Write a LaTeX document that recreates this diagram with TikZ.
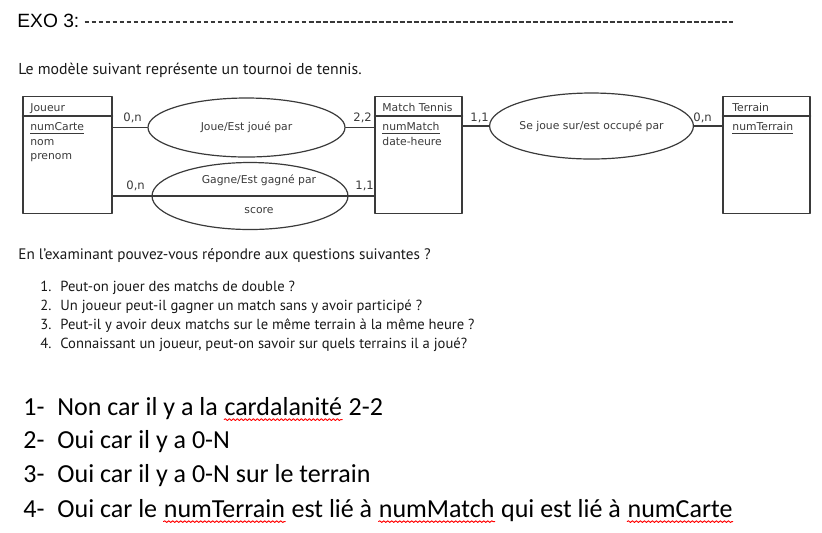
\documentclass[tikz,border=0pt]{standalone}
\usepackage{fontspec}
\setmainfont{PT Sans}
\newfontfamily\exofont{Liberation Sans}
\newfontfamily\merfont{DejaVu Sans}
\newfontfamily\wordfont{Carlito}
\usetikzlibrary{shapes.geometric,decorations.pathmorphing}
\definecolor{ink}{HTML}{3A3A3A}
\tikzset{
  every picture/.style={line join=round, line cap=round},
  entity/.style={draw=ink, line width=0.6pt, minimum height=58.5pt, inner sep=0pt},
  assoc/.style={draw=ink, line width=0.6pt, ellipse, inner sep=0pt},
  link/.style={draw=ink, line width=0.6pt},
  mer/.style={font=\merfont\fontsize{5.4}{7.3}\selectfont, text=ink, inner sep=0pt},
  card/.style={font=\merfont\fontsize{5.8}{7}\selectfont, text=ink, inner sep=0pt, anchor=base west},
  doc/.style={font=\fontsize{7.9}{9}\selectfont, text=black!90, inner sep=0pt, anchor=base west},
  item/.style={doc, font=\fontsize{7.3}{9}\selectfont},
  word/.style={font=\wordfont\fontsize{13}{15}\selectfont, inner sep=0pt, anchor=base west},
  squiggle/.style={draw=red, line width=0.45pt, decorate, decoration={snake, segment length=2pt, amplitude=0.45pt}},
  dashrule/.style={draw=black!78, line width=1.2pt, line cap=butt, dash pattern=on 2.4pt off 1.1pt},
}

\begin{document}
\begin{tikzpicture}[x=0.5pt,y=-0.5pt]
\useasboundingbox (0,0) rectangle (822,532);
% title
\node[font=\exofont\fontsize{9.6}{11}\selectfont, inner sep=0pt, anchor=base west] (exo) at (17,27) {EXO 3:};
\coordinate (dashend) at (733,22);
\draw[dashrule] ([xshift=2.5pt]exo.east |- dashend) -- (dashend);
\node[doc] (intro) at (18,74) {Le modèle suivant représente un tournoi de tennis.};

% entities
\node[entity, minimum width=44.5pt] (joueur) at (67.5,155) {};
\node[entity, minimum width=43.5pt] (match) at (418.5,155) {};
\node[entity, minimum width=43.5pt] (terrain) at (766.5,155) {};
\draw[link] ([yshift=-10pt]joueur.north west) -- ([yshift=-10pt]joueur.north east);
\draw[link] ([yshift=-10pt]match.north west) -- ([yshift=-10pt]match.north east);
\draw[link] ([yshift=-10pt]terrain.north west) -- ([yshift=-10pt]terrain.north east);
\node[mer, anchor=base west] (jname) at (30,111) {Joueur};
\node[mer, anchor=base west] (mname) at (382,111) {Match Tennis};
\node[mer, anchor=base west] (tname) at (732,111) {Terrain};
\node[mer, anchor=north west, align=left] (jattr) at (30,122) {\underline{numCarte}\\nom\\prenom};
\node[mer, anchor=north west, align=left] (mattr) at (382,122) {\underline{numMatch}\\date-heure};
\node[mer, anchor=north west, align=left] (tattr) at (732,122) {\underline{numTerrain}};

% associations
\node[assoc, mer, minimum width=98.5pt, minimum height=29.5pt] (joue) at (246.5,127.5) {Joue/Est joué par};
\node[assoc, minimum width=98pt, minimum height=33.5pt] (gagne) at (250,196) {};
\node[mer] (gtitle) at (259,180) {Gagne/Est gagné par};
\node[mer] (gscore) at (259,211) {score};
\node[assoc, mer, minimum width=98.5pt, minimum height=33pt] (sejoue) at (591.5,126) {Se joue sur/est occupé par};

% links
\draw[link] (joue.west -| joueur.east) -- (joue.west);
\draw[link] (joue.east) -- (joue.east -| match.west);
\draw[link] (gagne.center -| joueur.east) -- (gagne.center -| match.west);
\draw[link] (sejoue.west -| match.east) -- (sejoue.west);
\draw[link] (sejoue.east) -- (sejoue.east -| terrain.west);
\node[card] (c1) at (123,121) {0,n};
\node[card] (c2) at (353,121) {2,2};
\node[card] (c3) at (126,189) {0,n};
\node[card] (c4) at (355,189) {1,1};
\node[card] (c5) at (470,121) {1,1};
\node[card] (c6) at (693,121) {0,n};

% questions
\node[doc, font=\fontsize{7.6}{9}\selectfont] (ask) at (18,259) {En l'examinant pouvez-vous répondre aux questions suivantes ?};
\node[item] (q1n) at (40,291) {1.};
\node[item] (q1) at (60,291) {Peut-on jouer des matchs de double ?};
\node[item] (q2n) at (40,310) {2.};
\node[item] (q2) at (60,310) {Un joueur peut-il gagner un match sans y avoir participé ?};
\node[item] (q3n) at (40,329) {3.};
\node[item] (q3) at (60,329) {Peut-il y avoir deux matchs sur le même terrain à la même heure ?};
\node[item] (q4n) at (40,348) {4.};
\node[item] (q4) at (60,348) {Connaissant un joueur, peut-on savoir sur quels terrains il a joué?};

% answers
\node[word] (a1n) at (23,415) {1-};
\node[word] (a1) at (57,415) {Non car il y a la\ \mbox{}};
\node[word] (w1) at (a1.base east) {cardalanité};
\node[word] (a1b) at (w1.base east) {\ 2-2};
\node[word] (a2n) at (23,448) {2-};
\node[word] (a2) at (57,448) {Oui car il y a 0-N};
\node[word] (a3n) at (23,482) {3-};
\node[word] (a3) at (57,482) {Oui car il y a 0-N sur le terrain};
\node[word] (a4n) at (23,517) {4-};
\node[word] (a4) at (57,517) {Oui car le\ \mbox{}};
\node[word] (w2) at (a4.base east) {numTerrain};
\node[word] (a4b) at (w2.base east) {\ est lié à\ \mbox{}};
\node[word] (w3) at (a4b.base east) {numMatch};
\node[word] (a4c) at (w3.base east) {\ qui est lié à\ \mbox{}};
\node[word] (w4) at (a4c.base east) {numCarte};
\draw[squiggle] ([yshift=-2.3pt]w1.base west) -- ([yshift=-2.3pt]w1.base east);
\draw[squiggle] ([yshift=-2.3pt]w2.base west) -- ([yshift=-2.3pt]w2.base east);
\draw[squiggle] ([yshift=-2.3pt]w3.base west) -- ([yshift=-2.3pt]w3.base east);
\draw[squiggle] ([yshift=-2.3pt]w4.base west) -- ([yshift=-2.3pt]w4.base east);
\end{tikzpicture}
\end{document}
